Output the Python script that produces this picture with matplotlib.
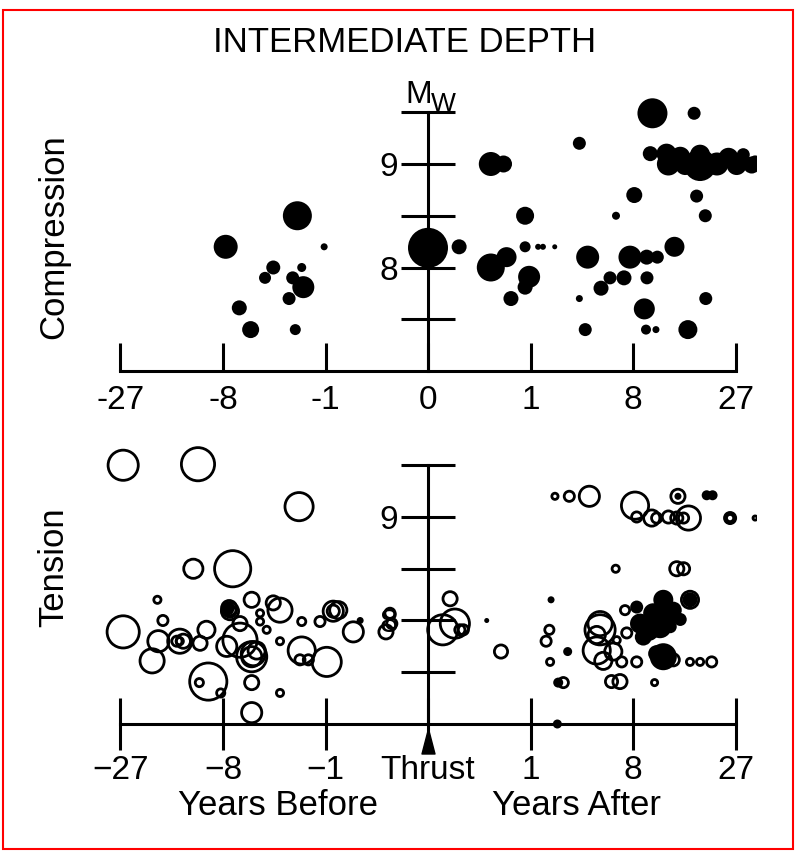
import matplotlib
matplotlib.use('Agg')
import matplotlib.pyplot as plt
from matplotlib.path import Path
from matplotlib.patches import Rectangle
from matplotlib.ticker import NullLocator
import numpy as np

plt.rcParams['font.family'] = ['Liberation Sans', 'DejaVu Sans']

# compression events (upper panel): years from thrust, thrust Mw, event magnitude
comp_years = [-2.07, -7.69, -1.04, -3.44, -4.02, -1.87, -2.30, -1.80, -2.49, -6.24, -5.18, -2.17,
              0.0, 0.028, 0.23, 0.40, 0.85, 0.23, 0.45, 0.85, 1.24, 1.41, 1.89, 0.96, 0.85, 0.53,
              3.22, 10.5, 17.5, 8.15, 6.17, 18.0, 19.8, 3.78, 3.22, 3.61, 4.81, 5.60, 6.99, 7.65,
              9.71, 11.2, 13.9, 9.75, 9.40, 9.62, 11.0, 16.3, 19.9,
              10.2, 12.6, 12.9, 14.9, 15.8, 18.7, 18.7, 22.4, 25.2, 27.3, 29.1, 31.5, 32.5]
comp_mw = [8.50, 8.20, 8.20, 8.00, 7.90, 8.00, 7.90, 7.81, 7.70, 7.61, 7.40, 7.40,
           8.19, 8.20, 9.00, 9.00, 8.50, 8.00, 8.10, 8.20, 8.20, 8.20, 8.20, 7.91, 7.81, 7.70,
           9.20, 9.49, 9.49, 8.70, 8.50, 8.69, 8.50, 8.10, 7.70, 7.40, 7.80, 7.90, 7.90, 8.10,
           8.10, 8.10, 8.20, 7.90, 7.60, 7.40, 7.40, 7.40, 7.70,
           9.10, 9.10, 9.00, 9.07, 8.99, 8.99, 9.09, 9.00, 9.06, 8.99, 9.09, 8.99, 9.02]
comp_mag = [7.25, 7.0, 6.15, 6.5, 6.4, 6.25, 6.45, 6.9, 6.45, 6.55, 6.65, 6.35,
            7.8, 6.55, 7.0, 6.65, 6.7, 7.2, 6.8, 6.35, 6.1, 6.1, 6.05, 6.9, 6.55, 6.55,
            6.45, 7.3, 6.45, 6.6, 6.2, 6.45, 6.45, 6.95, 6.15, 6.45, 6.55, 6.45, 6.55, 6.95,
            6.55, 6.45, 6.8, 6.45, 6.85, 6.3, 6.15, 6.75, 6.45,
            6.55, 6.8, 6.95, 6.8, 6.8, 7.4, 6.8, 6.95, 6.8, 6.8, 6.45, 6.65, 6.45]

# tension events (lower panel), open symbols
ten_years = [-26.3, -11.3, -1.99, -12.0, -6.92, -18.4, -26.3, -17.3, -18.2, -19.5,
             -14.2, -13.6, -14.7, -10.1, -11.0, -9.85, -11.1, -8.27, -5.09, -5.09,
             -7.21, -7.21, -7.40, -5.09, -3.01, -3.44, -6.17, -7.57, -5.09, -4.67,
             -3.90, -3.01, -3.01, -1.87, -1.87, -0.965, -1.59, -1.95, -0.79, -0.67,
             -1.17, -0.387, -0.051, -0.044, -0.069, 0.010, 0.018, 0.003, 0.030, 0.041,
             0.361, 1.66, 1.53, 1.69, 2.30, 6.14, 14.3, 15.5, 5.74, 6.57,
             10.8, 1.90, 2.62, 3.90, 8.24, 8.44, 10.4, 11.1, 12.9, 14.5,
             14.3, 16.4, 15.5, 25.6, 25.6, 32.5, 4.73, 4.73, 4.46, 4.46,
             5.00, 6.75, 8.44, 7.10, 7.29, 6.24, 5.91, 16.7, 16.7, 13.7,
             16.7, 18.7, 21.2, 12.1, -6.17, -4.40, -4.40, -4.95,
             -14.2, -7.30, -5.09, -0.79]
ten_mw = [9.50, 9.51, 9.10, 8.50, 8.50, 8.20, 7.89, 8.00, 7.80, 7.61,
          7.80, 7.80, 7.80, 7.91, 7.78, 7.41, 7.40, 7.30, 7.11, 7.40,
          8.09, 8.09, 8.11, 8.20, 8.10, 8.17, 7.81, 7.75, 7.65, 7.71,
          7.91, 7.80, 7.30, 7.99, 7.71, 7.60, 7.62, 7.62, 8.09, 8.10,
          7.99, 7.89, 8.07, 7.97, 7.89, 8.21, 7.97, 7.91, 7.91, 7.91,
          7.70, 7.91, 7.80, 7.60, 7.40, 8.50, 8.50, 8.50, 7.41, 7.41,
          7.40, 9.20, 9.20, 9.20, 9.11, 9.00, 8.99, 8.99, 9.00, 9.20,
          8.99, 8.99, 8.99, 8.99, 8.99, 8.99, 7.91, 7.97, 7.86, 7.71,
          7.61, 7.60, 7.60, 8.10, 7.88, 7.81, 7.70, 8.20, 8.20, 7.62,
          7.60, 7.60, 7.60, 8.20, 7.97, 8.07, 7.99, 7.68,
          7.80, 8.12, 7.65, 8.09]
ten_mag = [7.45, 7.6, 7.35, 6.9, 7.75, 6.3, 7.55, 6.45, 7.0, 7.15,
           7.15, 6.65, 6.45, 6.8, 6.65, 7.8, 6.35, 6.35, 6.95, 6.65,
           6.8, 6.55, 6.4, 6.7, 7.15, 6.65, 7.65, 6.95, 7.45, 6.8,
           6.3, 6.3, 6.3, 6.35, 7.3, 7.4, 6.45, 6.45, 6.95, 6.8,
           6.45, 6.95, 6.45, 6.45, 6.65, 6.65, 7.4, 7.45, 6.45, 6.45,
           6.6, 6.4, 6.45, 6.3, 6.45, 6.3, 6.65, 6.55, 6.55, 6.65,
           6.25, 6.25, 6.45, 6.95, 7.3, 6.45, 6.75, 6.45, 6.55, 6.65,
           6.55, 7.15, 6.45, 6.5, 6.3, 6.15, 7.45, 7.15, 6.8, 7.3,
           6.8, 6.45, 6.45, 6.4, 6.45, 6.3, 6.8, 6.8, 6.55, 6.55,
           6.3, 6.3, 6.45, 6.65, 6.65, 6.3, 6.3, 7.15,
           6.3, 6.7, 6.95, 6.55]

# tension events drawn solid
tens_years = [-0.29, 0.188, 1.73, 2.53, 2.05, 2.01, 14.5, 20.1, 21.4, 8.85,
              10.6, 12.1, 13.7, 11.6, 9.27, 13.2, 14.9, 8.44, 11.1, 12.1,
              16.7, -7.40, 10.0, 12.9]
tens_mw = [8.00, 8.00, 8.20, 7.70, 7.40, 7.00, 9.20, 9.21, 9.21, 7.97,
           8.07, 8.20, 8.10, 7.94, 7.84, 7.94, 8.01, 8.13, 7.68, 7.65,
           8.20, 8.12, 7.90, 8.05]
tens_mag = [6.15, 6.05, 6.15, 6.25, 6.3, 6.25, 6.15, 6.3, 6.3, 6.8,
            6.8, 6.8, 6.65, 6.95, 6.65, 6.45, 6.45, 6.45, 6.65, 7.15,
            6.4, 6.4, 6.8, 6.8]

top_ticks = [-27, -8, -1, 0, 1, 8, 27]
top_labels = ['-27', '-8', '-1', '0', '1', '8', '27']
bot_labels = ['\u221227', '\u22128', '\u22121', 'Thrust', '1', '8', '27']
mw_ticks = [7.5, 8.0, 8.5, 9.0, 9.5]
mw_labels = ['', '8', '', '9', '']

W, H = 796, 852
X0, XSTEP = 428, 102.5   # pixel of the thrust, pixels per cube-root year
YSTEP = 103.5            # pixels per Mw unit
LW = 2.2


def fx(px):
    return px / W


def fy(py):
    return 1 - py / H


def diam(mag):
    return 4 + 20 * (np.asarray(mag) - 6.0)


def add_panel(fig, y9_px, m_lo, m_hi):
    c_lo, c_hi = -3.2, 3.21
    left, right = X0 + c_lo * XSTEP, X0 + c_hi * XSTEP
    top = y9_px - (m_hi - 9) * YSTEP
    bottom = y9_px + (9 - m_lo) * YSTEP
    ax = fig.add_axes([fx(left), fy(bottom), (right - left) / W, (bottom - top) / H])
    ax.set_facecolor('none')
    ax.set_xscale('function', functions=(np.cbrt, lambda v: v ** 3))
    ax.set_xlim(c_lo ** 3, c_hi ** 3)
    ax.set_ylim(m_lo, m_hi)
    for s in ('top', 'right'):
        ax.spines[s].set_visible(False)
    ax.spines['left'].set_position(('data', 0))
    ax.spines['left'].set_bounds(7.0, 9.5)
    ax.spines['bottom'].set_position(('data', 7.0))
    ax.spines['bottom'].set_bounds(-27, 27)
    for s in ('left', 'bottom'):
        ax.spines[s].set_linewidth(LW)
    ax.set_yticks(mw_ticks, mw_labels)
    ax.xaxis.set_minor_locator(NullLocator())
    ax.yaxis.set_minor_locator(NullLocator())
    ax.tick_params(axis='y', direction='inout', length=39, width=LW, pad=2, labelsize=24)
    return ax


fig = plt.figure(figsize=(W / 100, H / 100), dpi=100)

ax1 = add_panel(fig, 164, 6.55, 9.95)
ax1.set_xticks(top_ticks, top_labels)
ax1.tick_params(axis='x', direction='in', length=20, width=LW, pad=10, labelsize=24)
ax1.scatter(comp_years, comp_mw, s=(0.72 * diam(comp_mag)) ** 2, color='black', linewidths=0)

ax2 = add_panel(fig, 517, 6.55, 9.9)
ax2.set_xticks(top_ticks, bot_labels)
ax2.tick_params(axis='x', direction='inout', length=37, width=LW, pad=3.5, labelsize=24)
ax2.scatter(ten_years, ten_mw, s=(0.72 * (diam(ten_mag) - 2.8)) ** 2,
            facecolors='none', edgecolors='black', linewidths=2.0)
ax2.scatter(tens_years, tens_mw, s=(0.72 * diam(tens_mag)) ** 2, color='black', linewidths=0)
arrow = Path([(0, 1), (-0.52, -1), (0.52, -1), (0, 1)], closed=True)
ax2.plot([0], [6.84], marker=arrow, ms=18, color='black', clip_on=False)

fig.text(fx(405), fy(52), 'INTERMEDIATE DEPTH', ha='center', va='baseline', fontsize=25)
fig.text(fx(405), fy(103), 'M', ha='left', va='baseline', fontsize=23)
fig.text(fx(431), fy(111), 'W', ha='left', va='baseline', fontsize=19)
fig.text(fx(54), fy(237), 'Compression', rotation=90, ha='center', va='center', fontsize=25)
fig.text(fx(54), fy(567), 'Tension', rotation=90, ha='center', va='center', fontsize=25)
fig.text(fx(278), fy(815), 'Years Before', ha='center', va='baseline', fontsize=25)
fig.text(fx(577), fy(815), 'Years After', ha='center', va='baseline', fontsize=25)

fig.add_artist(Rectangle((fx(3), fy(849)), 790 / W, 839 / H, transform=fig.transFigure,
                         fill=False, edgecolor='red', linewidth=1.5))

fig.savefig('out.png', dpi=100)
